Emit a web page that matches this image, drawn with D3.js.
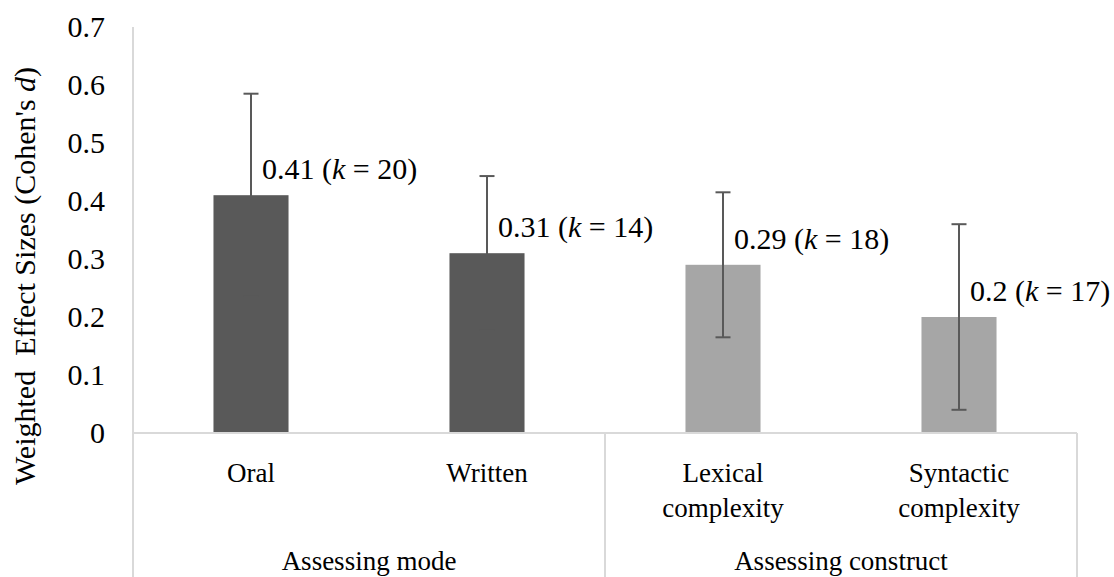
<!DOCTYPE html>
<html>
<head>
<meta charset="utf-8">
<script src="https://cdn.jsdelivr.net/npm/d3@7/dist/d3.min.js"></script>
</head>
<body style="margin:0;padding:0;background:#fff">
<svg id="chart" width="1114" height="577" font-family="Liberation Serif" style="display:block"></svg>
<script>
// ---- data ----
const categories = ["Oral", "Written", "Lexical complexity", "Syntactic complexity"];
const categoryLines = [["Oral"], ["Written"], ["Lexical", "complexity"], ["Syntactic", "complexity"]];
const groups = ["Assessing mode", "Assessing mode", "Assessing construct", "Assessing construct"];
const groupNames = ["Assessing mode", "Assessing construct"];
const effectSizes = [0.41, 0.31, 0.29, 0.20];
const errors = [0.175, 0.133, 0.125, 0.16];
const kValues = [20, 14, 18, 17];
const valueLabels = ["0.41", "0.31", "0.29", "0.2"];
const yTicks = [0, 0.1, 0.2, 0.3, 0.4, 0.5, 0.6, 0.7];
const yTitle = "Weighted  Effect Sizes (Cohen's ";

// ---- layout / style ----
const FONT = "Liberation Serif";
const left = 133, right = 1077, zeroY = 433, topY = 27, bottomY = 577;
const barColors = { "Assessing mode": "#595959", "Assessing construct": "#a6a6a6" };
const axisColor = "#d9d9d9";
const errColor = "#595959";
const fontSize = 30;
const catFontSize = 27;

const svg = d3.select("#chart");

const x = d3.scaleBand().domain(categories).range([left, right])
  .paddingInner(0.682).paddingOuter(0.341);
const y = d3.scaleLinear().domain([0, 0.7]).range([zeroY, topY]);
const step = x.step();
const center = c => x(c) + x.bandwidth() / 2;

function txt(sel, size) {
  return sel.attr("font-family", FONT).attr("font-size", size || fontSize).attr("fill", "#000");
}

// bars
svg.append("g").selectAll("rect").data(categories).join("rect")
  .attr("x", d => x(d))
  .attr("y", (d, i) => y(effectSizes[i]))
  .attr("width", x.bandwidth())
  .attr("height", (d, i) => y(0) - y(effectSizes[i]))
  .attr("fill", (d, i) => barColors[groups[i]]);

// error bars
const eb = svg.append("g").attr("stroke", errColor).attr("stroke-width", 2);
categories.forEach((c, i) => {
  const cx = center(c);
  const hi = y(effectSizes[i] + errors[i]);
  const lo = y(effectSizes[i] - errors[i]);
  eb.append("line").attr("x1", cx).attr("x2", cx).attr("y1", hi).attr("y2", lo);
  eb.append("line").attr("x1", cx - 7.5).attr("x2", cx + 7.5).attr("y1", hi).attr("y2", hi);
  eb.append("line").attr("x1", cx - 7.5).attr("x2", cx + 7.5).attr("y1", lo).attr("y2", lo);
});

// data labels
categories.forEach((c, i) => {
  const t = txt(svg.append("text"))
    .attr("x", center(c) + 11)
    .attr("y", y(effectSizes[i]) - 16)
    .style("white-space", "pre");
  t.append("tspan").text(valueLabels[i] + " (");
  t.append("tspan").attr("font-style", "italic").text("k");
  t.append("tspan").text(" = " + kValues[i] + ")");
});

// y axis labels via d3 axis
const yAxis = d3.axisLeft(y).tickValues(yTicks)
  .tickFormat(d => d === 0 ? "0" : d3.format(".1f")(d)).tickSize(0).tickPadding(0);
const ga = svg.append("g").attr("transform", "translate(105,0)").call(yAxis);
ga.attr("font-family", FONT).attr("font-size", fontSize);
ga.select(".domain").remove();
txt(ga.selectAll("text")).attr("dy", "0.33em");

// axis lines
const lines = svg.append("g").attr("stroke", axisColor).attr("stroke-width", 2).attr("fill", "none");
lines.append("line").attr("x1", left).attr("x2", left).attr("y1", topY).attr("y2", bottomY);
lines.append("line").attr("x1", left).attr("x2", right).attr("y1", zeroY).attr("y2", zeroY);
lines.append("line").attr("x1", right).attr("x2", right).attr("y1", zeroY).attr("y2", bottomY);
for (let gi = 1; gi < groupNames.length; gi++) {
  const firstIdx = groups.indexOf(groupNames[gi]);
  const sx = x(categories[firstIdx]) - x.paddingInner() * step / 2;
  lines.append("line").attr("x1", sx).attr("x2", sx).attr("y1", zeroY).attr("y2", bottomY);
}

// category labels
categories.forEach((c, i) => {
  const t = txt(svg.append("text"), catFontSize).attr("text-anchor", "middle");
  categoryLines[i].forEach((ln, j) => {
    t.append("tspan").attr("x", center(c)).attr("y", 482 + j * 35).text(ln);
  });
});

// group labels
groupNames.forEach(g => {
  const idx = categories.filter((c, i) => groups[i] === g).map(center);
  txt(svg.append("text"), catFontSize).attr("text-anchor", "middle")
    .attr("x", d3.mean(idx)).attr("y", 570).text(g);
});

// y title
const yt = txt(svg.append("text"))
  .attr("transform", "translate(35,276) rotate(-90)")
  .attr("text-anchor", "middle")
  .style("white-space", "pre");
yt.append("tspan").text(yTitle);
yt.append("tspan").attr("font-style", "italic").text("d");
yt.append("tspan").text(")");
</script>
</body>
</html>
